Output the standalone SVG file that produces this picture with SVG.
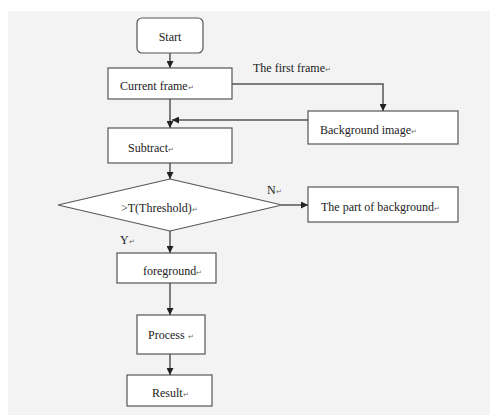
<svg xmlns="http://www.w3.org/2000/svg" width="490" height="415" viewBox="0 0 490 415">
<defs>
<marker id="ah" viewBox="0 0 10 10" refX="10" refY="5" markerWidth="7" markerHeight="7" markerUnits="userSpaceOnUse" orient="auto">
<path d="M0,0 L10,5 L0,10 Z" fill="#222"/>
</marker>
<style>
.box{fill:#fff;stroke:#555;stroke-width:1.2}
.t{font-family:"Liberation Serif","Times New Roman",serif;font-size:12px;fill:#222}
.r{font-size:7px;fill:#666}
.c{fill:none;stroke:#555;stroke-width:1.5}
</style>
</defs>
<rect x="8" y="11" width="482" height="404" fill="#f3f3f3"/>
<g id="connectors">
<line class="c" x1="170" y1="53" x2="170" y2="68" marker-end="url(#ah)"/>
<polyline class="c" points="232,84 383,84 383,111" marker-end="url(#ah)"/>
<line class="c" x1="170" y1="99" x2="170" y2="128" marker-end="url(#ah)"/>
<line class="c" x1="308" y1="120" x2="172" y2="120" marker-end="url(#ah)"/>
<line class="c" x1="170" y1="163" x2="170" y2="179" marker-end="url(#ah)"/>
<line class="c" x1="282" y1="205" x2="308" y2="205" marker-end="url(#ah)"/>
<line class="c" x1="170" y1="231" x2="170" y2="253" marker-end="url(#ah)"/>
<line class="c" x1="170" y1="283" x2="170" y2="315" marker-end="url(#ah)"/>
<line class="c" x1="170" y1="354" x2="170" y2="375" marker-end="url(#ah)"/>
<text class="t" x="253" y="72">The first frame<tspan class="r">↵</tspan></text>
<text class="t" x="267" y="194">N<tspan class="r">↵</tspan></text>
<text class="t" x="120" y="244">Y<tspan class="r">↵</tspan></text>
</g>
<g id="start">
<rect class="box" x="137" y="18" width="66" height="35" rx="5"/>
<text class="t" x="170" y="41" text-anchor="middle">Start</text>
</g>
<g id="current-frame">
<rect class="box" x="108" y="68" width="124" height="31"/>
<text class="t" x="120" y="90">Current frame<tspan class="r">↵</tspan></text>
</g>
<g id="background-image">
<rect class="box" x="308" y="111" width="150" height="33"/>
<text class="t" x="320" y="134">Background image<tspan class="r">↵</tspan></text>
</g>
<g id="subtract">
<rect class="box" x="108" y="128" width="124" height="35"/>
<text class="t" x="128" y="152">Subtract<tspan class="r">↵</tspan></text>
</g>
<g id="threshold">
<polygon class="box" points="170,179 282,205 170,231 58,205"/>
<text class="t" x="121" y="212">&gt;T(Threshold)<tspan class="r">↵</tspan></text>
</g>
<g id="background-part">
<rect class="box" x="308" y="187" width="150" height="35"/>
<text class="t" x="321" y="211">The part of background<tspan class="r">↵</tspan></text>
</g>
<g id="foreground">
<rect class="box" x="117" y="253" width="99" height="30"/>
<text class="t" x="143" y="275">foreground<tspan class="r">↵</tspan></text>
</g>
<g id="process">
<rect class="box" x="137" y="315" width="68" height="39"/>
<text class="t" x="148" y="339">Process <tspan class="r">↵</tspan></text>
</g>
<g id="result">
<rect class="box" x="127" y="375" width="85" height="31"/>
<text class="t" x="152" y="397">Result<tspan class="r">↵</tspan></text>
</g>
</svg>
